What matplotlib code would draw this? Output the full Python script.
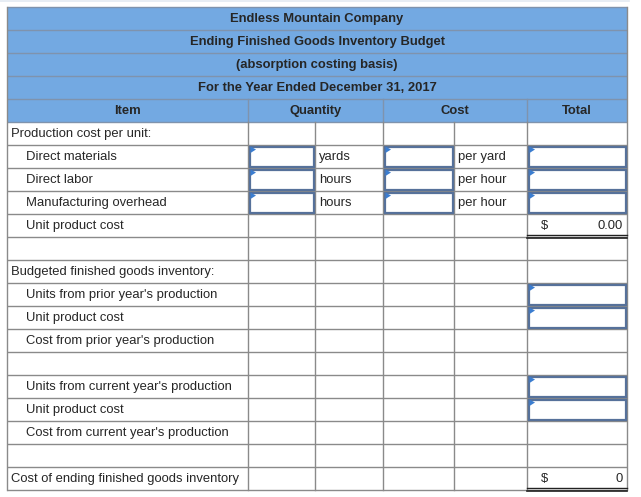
import matplotlib
matplotlib.use("Agg")
import matplotlib.pyplot as plt
from matplotlib.patches import Rectangle, Polygon

# table content
titles = ["Endless Mountain Company",
          "Ending Finished Goods Inventory Budget",
          "(absorption costing basis)",
          "For the Year Ended December 31, 2017"]
col_headers = ["Item", "Quantity", "Cost", "Total"]

row_labels = ["Production cost per unit:", "Direct materials", "Direct labor",
              "Manufacturing overhead", "Unit product cost", "",
              "Budgeted finished goods inventory:",
              "Units from prior year's production", "Unit product cost",
              "Cost from prior year's production", "",
              "Units from current year's production", "Unit product cost",
              "Cost from current year's production", "",
              "Cost of ending finished goods inventory"]
row_indent = [0, 1, 1, 1, 1, 0, 0, 1, 1, 1, 0, 1, 1, 1, 0, 0]
qty_units = ["", "yards", "hours", "hours"] + [""] * 12
cost_units = ["", "per yard", "per hour", "per hour"] + [""] * 12
totals = {4: "0.00", 15: "0"}

# which body rows have input boxes in the quantity, cost and total columns
qty_inputs = [1, 2, 3]
cost_inputs = [1, 2, 3]
total_inputs = [1, 2, 3, 7, 8, 11, 12]

# layout (pixels)
W, H = 641, 497
col_x = [7, 248, 315, 383, 454, 527, 627]
top = 7
rh = 23

header_blue = "#73a9e2"
grid = "#8a8a8a"
box_col = "#56719a"
tri_col = "#3b7dd0"
txt = "#262626"
font = "Liberation Sans"
fs = 9.35

fig = plt.figure(figsize=(W / 100, H / 100), dpi=100)
ax = fig.add_axes([0, 0, 1, 1])
ax.set_xlim(0, W)
ax.set_ylim(H, 0)
ax.axis("off")

left, right = col_x[0], col_x[-1]
n_head = len(titles) + 1
n_rows = n_head + len(row_labels)
bottom = top + n_rows * rh

# faint frame line at top of the screenshot
ax.plot([0, right + 2], [1, 1], color="#e3eaf2", lw=1.2)

# header background
ax.add_patch(Rectangle((left, top), right - left, n_head * rh,
                       facecolor=header_blue, edgecolor="none"))

for i, t in enumerate(titles):
    ax.text((left + right) / 2, top + i * rh + rh / 2 + 0.5, t, ha="center",
            va="center", fontsize=fs, fontweight="bold", color=txt, family=font)

hy = top + len(titles) * rh + rh / 2 + 0.5
spans = [(col_x[0], col_x[1]), (col_x[1], col_x[3]),
         (col_x[3], col_x[5]), (col_x[5], col_x[6])]
for (a, b), h in zip(spans, col_headers):
    ax.text((a + b) / 2, hy, h, ha="center", va="center", fontsize=fs,
            fontweight="bold", color=txt, family=font)

# horizontal grid lines
for r in range(n_rows + 1):
    y = top + r * rh
    c = "#7f93ad" if r <= n_head else grid
    ax.plot([left, right], [y, y], color=c, lw=1, solid_capstyle="butt")

# vertical lines
ax.plot([left, left], [top, bottom], color=grid, lw=1)
ax.plot([right, right], [top, bottom], color=grid, lw=1)
hdr_row_top = top + len(titles) * rh
for x in [col_x[1], col_x[3], col_x[5]]:
    ax.plot([x, x], [hdr_row_top, top + n_head * rh], color="#7f93ad", lw=1)
body_top = top + n_head * rh
for x in col_x[1:-1]:
    ax.plot([x, x], [body_top, bottom], color=grid, lw=1)

# body text
for i, lab in enumerate(row_labels):
    yc = body_top + i * rh + rh / 2 + 0.5
    if lab:
        ax.text(left + 4 + 15 * row_indent[i], yc, lab, ha="left", va="center",
                fontsize=fs, color=txt, family=font)
    if qty_units[i]:
        ax.text(col_x[2] + 4, yc, qty_units[i], ha="left", va="center",
                fontsize=fs, color=txt, family=font)
    if cost_units[i]:
        ax.text(col_x[4] + 4, yc, cost_units[i], ha="left", va="center",
                fontsize=fs, color=txt, family=font)
    if i in totals:
        ax.text(col_x[5] + 14, yc, "$", ha="left", va="center",
                fontsize=fs, color=txt, family=font)
        ax.text(col_x[6] - 4, yc, totals[i], ha="right", va="center",
                fontsize=fs, color=txt, family=font)
        ylow = body_top + (i + 1) * rh
        ax.plot([col_x[5], col_x[6]], [ylow - 2, ylow - 2], color="#222", lw=1)
        ax.plot([col_x[5], col_x[6]], [ylow + 0.5, ylow + 0.5], color="#222", lw=1.2)


def input_box(x0, x1, i):
    y0 = body_top + i * rh
    ax.add_patch(Rectangle((x0 + 1.5, y0 + 1.5), x1 - x0 - 3, rh - 3,
                           facecolor="white", edgecolor=box_col, lw=1.6, zorder=3))
    ax.add_patch(Polygon([(x0 + 2.5, y0 + 1.5), (x0 + 8, y0 + 4.5),
                          (x0 + 2.5, y0 + 8)], closed=True,
                         facecolor=tri_col, edgecolor="none", zorder=4))


for i in qty_inputs:
    input_box(col_x[1], col_x[2], i)
for i in cost_inputs:
    input_box(col_x[3], col_x[4], i)
for i in total_inputs:
    input_box(col_x[5], col_x[6], i)

fig.savefig("out.png", dpi=100)
